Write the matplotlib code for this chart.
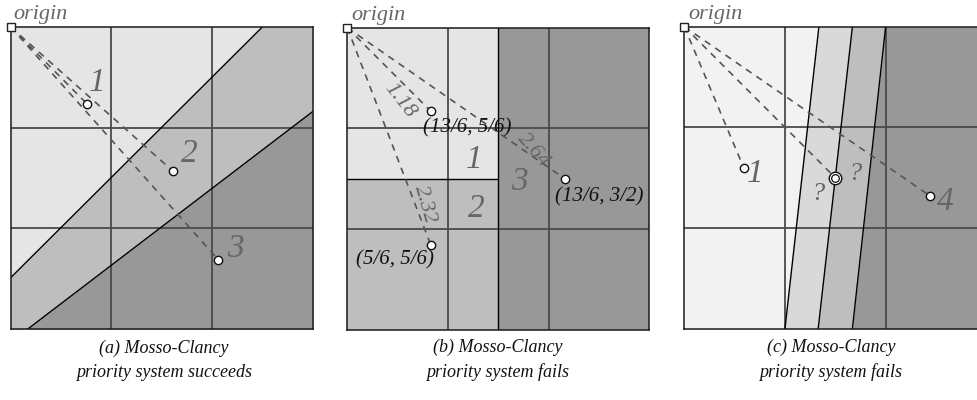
import numpy as np
import matplotlib
matplotlib.use("Agg")
import matplotlib.pyplot as plt

# ---------------- data ----------------
grid_ticks = [1, 2]
# panel (a)
a_points_x = [0.755, 1.61, 2.06]
a_points_y = [0.76, 1.43, 2.31]
a_labels = ["1", "2", "3"]
a_label_x = [0.86, 1.77, 2.23]
a_label_y = [0.55, 1.26, 2.20]
a_bound1 = [(0.0, 2.49), (2.5, 0.0)]
a_bound2 = [(0.17, 3.0), (3.0, 0.84)]
# panel (b)
b_points_x = [0.83, 2.16, 0.83]
b_points_y = [0.83, 1.50, 2.16]
b_point_text = ["(13/6, 5/6)", "(13/6, 3/2)", "(5/6, 5/6)"]
b_point_text_x = [1.19, 2.50, 0.47]
b_point_text_y = [0.99, 1.68, 2.31]
b_dist_text = ["1.18", "2.64", "2.32"]
b_dist_x = [0.52, 1.85, 0.77]
b_dist_y = [0.72, 1.22, 1.76]
b_dist_rot = [-52, -48, -74]
b_region_labels = ["1", "2", "3"]
b_region_x = [1.26, 1.28, 1.71]
b_region_y = [1.31, 1.80, 1.53]
b_split = 1.5
# panel (c)
c_points_x = [0.59, 2.44]
c_points_y = [1.40, 1.68]
c_tie_x, c_tie_y = 1.5, 1.5
c_labels = ["1", "4", "?", "?"]
c_label_x = [0.70, 2.59, 1.33, 1.69]
c_label_y = [1.46, 1.74, 1.66, 1.46]
c_lines_top = [1.337, 1.67, 2.0]
c_lines_bot = [1.0, 1.33, 1.67]

captions = ["(a) Mosso-Clancy\npriority system succeeds",
            "(b) Mosso-Clancy\npriority system fails",
            "(c) Mosso-Clancy\npriority system fails"]

# ---------------- style ----------------
LIGHTEST = "#f2f2f2"
LIGHT = "#e5e5e5"
MID2 = "#d9d9d9"
MID = "#bebebe"
DARK = "#989898"
GRID = "#4a4a4a"
DASH = "#555555"
TXT = "#666666"
FONT = "Liberation Serif"

W, H = 977, 400
fig = plt.figure(figsize=(W / 100, H / 100), dpi=100)
fig.patch.set_facecolor("white")

lefts_px = [10.7, 347.3, 684.3]
tops_px = [27.0, 27.7, 26.7]
size_px = 302.0
axes = []
for lp, tp in zip(lefts_px, tops_px):
    ax = fig.add_axes([lp / W, (H - tp - size_px) / H, size_px / W, size_px / H])
    ax.set_xlim(0, 3)
    ax.set_ylim(3, 0)
    ax.set_xticks([])
    ax.set_yticks([])
    for s in ax.spines.values():
        s.set_color("#1a1a1a")
        s.set_linewidth(1.1)
        s.set_zorder(10)
    axes.append(ax)

xs = np.linspace(0, 3, 200)
ys = np.linspace(0, 3, 200)


def line_y(p, q, x):
    (x1, y1), (x2, y2) = p, q
    return y1 + (y2 - y1) * (x - x1) / (x2 - x1)


def grid(ax):
    for g in grid_ticks:
        ax.axvline(g, color=GRID, lw=1.3, zorder=2)
        ax.axhline(g, color=GRID, lw=1.3, zorder=2)


def origin(ax, dx):
    ax.plot([0], [0], marker="s", ms=6, mfc="white", mec="#222222", mew=1.0,
            clip_on=False, zorder=20)
    ax.text(dx, -0.08, "origin", fontsize=16, style="italic", family=FONT,
            color=TXT, ha="left", va="baseline", clip_on=False)


def dashes(ax, px, py):
    for x, y in zip(px, py):
        ax.plot([0, x], [0, y], ls=(0, (4, 3.5)), color=DASH, lw=1.2, zorder=4)


def pts(ax, px, py):
    ax.plot(px, py, "o", ms=6, mfc="white", mec="#111111", mew=1.0,
            ls="none", zorder=6)


# ----- panel a -----
ax = axes[0]
ax.fill_between(xs, 0, 3, color=LIGHT, lw=0, zorder=0)
y1 = line_y(*a_bound1, xs)
y2 = line_y(*a_bound2, xs)
ax.fill_between(xs, y1, 3, color=MID, lw=0, zorder=1)
ax.fill_between(xs, y2, 3, color=DARK, lw=0, zorder=1)
grid(ax)
ax.plot(xs, y1, color="black", lw=1.0, zorder=3)
ax.plot(xs, y2, color="black", lw=1.0, zorder=3)
dashes(ax, a_points_x, a_points_y)
pts(ax, a_points_x, a_points_y)
for t, x, y in zip(a_labels, a_label_x, a_label_y):
    ax.text(x, y, t, fontsize=24, style="italic", family=FONT, color=TXT,
            ha="center", va="center", zorder=7)
origin(ax, 0.03)

# ----- panel b -----
ax = axes[1]
ax.fill_between([0, b_split], 0, b_split, color=LIGHT, lw=0, zorder=0)
ax.fill_between([0, b_split], b_split, 3, color=MID, lw=0, zorder=0)
ax.fill_between([b_split, 3], 0, 3, color=DARK, lw=0, zorder=0)
grid(ax)
ax.plot([b_split, b_split], [0, 3], color="black", lw=1.0, zorder=3)
ax.plot([0, b_split], [b_split, b_split], color="black", lw=1.0, zorder=3)
dashes(ax, b_points_x, b_points_y)
pts(ax, b_points_x, b_points_y)
for t, x, y in zip(b_point_text, b_point_text_x, b_point_text_y):
    ax.text(x, y, t, fontsize=15, style="italic", family=FONT, color="#111111",
            ha="center", va="center", zorder=7)
for t, x, y, r in zip(b_dist_text, b_dist_x, b_dist_y, b_dist_rot):
    ax.text(x, y, t, fontsize=16, style="italic", family=FONT, color=TXT,
            ha="center", va="center", rotation=r, rotation_mode="anchor", zorder=7)
for t, x, y in zip(b_region_labels, b_region_x, b_region_y):
    ax.text(x, y, t, fontsize=24, style="italic", family=FONT, color=TXT,
            ha="center", va="center", zorder=7)
origin(ax, 0.045)

# ----- panel c -----
ax = axes[2]
fills = [LIGHTEST, MID2, MID, DARK]
bounds = [np.zeros_like(ys)]
for top, bot in zip(c_lines_top, c_lines_bot):
    bounds.append(top + (bot - top) * ys / 3)
bounds.append(np.full_like(ys, 3.0))
for i, col in enumerate(fills):
    ax.fill_betweenx(ys, bounds[i], bounds[i + 1], color=col, lw=0, zorder=0)
grid(ax)
for b in bounds[1:-1]:
    ax.plot(b, ys, color="black", lw=1.0, zorder=3)
dashes(ax, c_points_x + [c_tie_x], c_points_y + [c_tie_y])
pts(ax, c_points_x, c_points_y)
ax.plot([c_tie_x], [c_tie_y], "o", ms=9, mfc="white", mec="#111111", mew=1.0, zorder=6)
ax.plot([c_tie_x], [c_tie_y], "o", ms=5.5, mfc="white", mec="#111111", mew=0.9, zorder=7)
for t, x, y in zip(c_labels, c_label_x, c_label_y):
    fs = 24 if t != "?" else 19
    ax.text(x, y, t, fontsize=fs, style="italic", family=FONT, color=TXT,
            ha="center", va="center", zorder=7)
origin(ax, 0.04)

# ----- captions -----
cap_cx = [164, 498, 831]
for cx, cap in zip(cap_cx, captions):
    fig.text(cx / W, 1 - 360 / H, cap, fontsize=13, style="italic", family=FONT,
             color="#111111", ha="center", va="center", linespacing=1.55)

fig.savefig("out.png", dpi=100)
